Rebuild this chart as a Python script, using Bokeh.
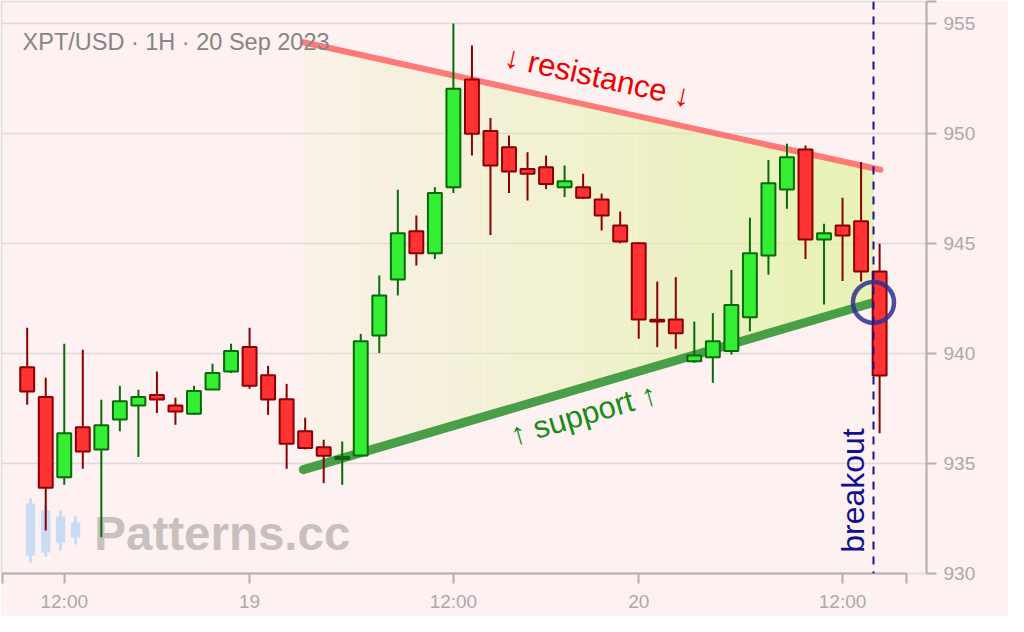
import math
import numpy as np
from bokeh.plotting import figure
from bokeh.models import FixedTicker, Span, Range1d, ColumnDataSource
from bokeh.core.properties import value
from bokeh.embed import file_html
from bokeh.resources import INLINE

# ---------------- data ----------------
opens = [939.38, 938.02, 934.38, 936.65, 935.64, 937.00, 937.64, 938.11, 937.64, 937.26,
         938.36, 939.18, 940.29, 939.01, 937.92, 936.47, 935.74, 935.20, 935.36, 940.82,
         943.36, 945.56, 944.56, 947.56, 952.45, 950.11, 949.38, 948.39, 948.47, 947.56,
         947.56, 947.00, 945.82, 945.01, 941.53, 941.55, 939.65, 939.83, 940.11, 941.65,
         944.45, 947.45, 949.27, 945.18, 945.82, 946.01, 943.73]
highs = [941.17, 938.90, 940.44, 940.17, 937.90, 938.53, 938.35, 939.18, 937.99, 938.53,
         939.53, 940.44, 941.17, 939.44, 938.62, 937.08, 936.08, 936.00, 940.89, 943.55,
         947.44, 946.27, 947.56, 955.00, 954.00, 950.71, 949.91, 949.15, 949.00, 948.55,
         948.17, 947.27, 946.45, 945.06, 943.27, 943.47, 941.45, 941.83, 943.80, 946.17,
         948.80, 949.53, 949.45, 945.90, 947.08, 948.70, 944.99]
lows = [937.67, 931.95, 934.03, 934.76, 931.65, 936.47, 935.29, 937.29, 936.76, 937.21,
        938.36, 939.11, 938.40, 937.21, 934.76, 935.64, 934.11, 934.03, 935.36, 940.02,
        942.64, 944.00, 944.30, 947.29, 949.00, 945.39, 947.30, 946.95, 947.48, 947.11,
        947.03, 945.59, 945.01, 940.67, 940.29, 940.21, 939.58, 938.67, 939.95, 941.01,
        943.58, 946.58, 944.30, 942.23, 943.29, 943.27, 936.38]
closes = [938.27, 933.90, 936.38, 935.55, 936.74, 937.83, 938.02, 937.91, 937.36, 938.29,
          939.11, 940.11, 938.53, 937.91, 935.90, 935.71, 935.35, 935.30, 940.56, 942.64,
          945.47, 944.56, 947.29, 952.03, 949.99, 948.55, 948.27, 948.17, 947.71, 947.83,
          947.08, 946.27, 945.09, 941.55, 941.45, 940.92, 939.91, 940.56, 942.21, 944.56,
          947.74, 948.92, 945.18, 945.47, 945.36, 943.73, 939.00]

tick_pos = [2, 12, 23, 33, 44]
tick_labels = ["12:00", "19", "12:00", "20", "12:00"]
y_ticks = [930, 935, 940, 945, 950, 955]

# trend lines (candle index, price)
res_x = [14.9, 46.05]
res_y = [954.15, 948.35]
sup_x = [14.9, 45.67]
sup_y = [934.72, 942.32]
breakout_x = 45.67
breakout_y = 942.32

# watermark logo candles
logo_x = [0.18, 1.0, 1.8, 2.61]
logo_top = [933.18, 932.86, 932.59, 932.32]
logo_bot = [930.82, 930.95, 931.41, 931.64]
logo_hi = [933.41, 933.09, 932.86, 932.59]
logo_lo = [930.50, 930.77, 931.05, 931.32]

FONT = "Liberation Sans"

# ---------------- figure ----------------
X0, X1 = -1.387, 48.53
Y0, Y1 = 930.0, 956.0
W, H = 1008, 616
BL, BR, BT, BB = 1, 82, 1, 43
fw, fh = W - BL - BR, H - BT - BB
xpx = fw / (X1 - X0)
ypx = fh / (Y1 - Y0)

p = figure(width=W, height=H, output_backend="svg", toolbar_location=None,
           x_range=Range1d(X0, X1), y_range=Range1d(Y0, Y1),
           y_axis_location="right", min_border_left=BL, min_border_right=BR,
           min_border_top=BT, min_border_bottom=BB)
p.background_fill_color = "#fdf1f1"
p.border_fill_color = "#fdf1f1"
p.outline_line_color = "#dcdcdc"
p.outline_line_width = 1.5

p.xgrid.visible = False
p.ygrid.ticker = FixedTicker(ticks=y_ticks)
p.ygrid.grid_line_color = "#dedada"
p.ygrid.grid_line_width = 1.5

# axes
xa = p.xaxis[0]
xa.ticker = FixedTicker(ticks=[-1.333] + tick_pos + [47.45])
ov = {float(t): l for t, l in zip(tick_pos, tick_labels)}
ov[-1.333] = ""
ov[47.45] = ""
xa.major_label_overrides = ov
xa.bounds = (-1.333, 47.45)
ya = p.yaxis[0]
ya.ticker = FixedTicker(ticks=y_ticks + [956])
ya.major_label_overrides = {956: ""}
for ax in (xa, ya):
    ax.axis_line_color = "#b0b0b0"
    ax.axis_line_width = 2
    ax.major_tick_line_color = "#b0b0b0"
    ax.major_tick_line_width = 2
    ax.major_tick_out = 10
    ax.major_tick_in = 0
    ax.minor_tick_line_color = None
    ax.major_label_text_font = FONT
    ax.major_label_text_font_size = "19px"
    ax.major_label_text_color = "#aaaaaa"
    ax.major_label_standoff = 7

# gradient fill of the triangle (styling strips)
def line_at(xs, ys, x):
    s = (ys[1] - ys[0]) / (xs[1] - xs[0])
    return ys[0] + s * (x - xs[0])

n = 90
edges = np.linspace(res_x[0], breakout_x, n + 1)
pxs, pys, alphas = [], [], []
for i in range(n):
    a, b = edges[i], edges[i + 1] + 0.01
    pxs.append([a, b, b, a])
    pys.append([line_at(res_x, res_y, a), line_at(res_x, res_y, b),
                line_at(sup_x, sup_y, b), line_at(sup_x, sup_y, a)])
    t = i / (n - 1)
    alphas.append(0.10 + 0.66 * t)
p.patches(pxs, pys, fill_color="#e0f2a0", fill_alpha=alphas, line_color=None)

# watermark logo + text
p.segment(logo_x, logo_lo, logo_x, logo_hi, line_color="#c9dcf4", line_width=3)
p.vbar(x=logo_x, top=logo_top, bottom=logo_bot, width=0.5, fill_color="#c9dcf4",
       line_color=None)
p.text(x=[3.62], y=[931.82], text=["Patterns.cc"], text_font=value(FONT),
       text_font_style="bold", text_font_size="47.5px", text_color="#c8c0c0",
       text_align="left", text_baseline="middle")

# trend lines
p.line(res_x, res_y, line_color="#ff6b6b", line_alpha=0.9, line_width=6, line_cap="round")
p.line(sup_x, sup_y, line_color="#3f9a3f", line_alpha=0.95, line_width=9, line_cap="round")

# candles
idx = list(range(len(opens)))
up = [c >= o for o, c in zip(opens, closes)]
src = ColumnDataSource(dict(
    x=idx, high=highs, low=lows,
    top=[max(o, c) for o, c in zip(opens, closes)],
    bot=[min(o, c) for o, c in zip(opens, closes)],
    fill=["#33ee33" if u else "#ff3333" for u in up],
    edge=["#0a6a0a" if u else "#8b0000" for u in up],
))
p.segment("x", "low", "x", "high", source=src, line_color="edge", line_width=2)
p.vbar(x="x", top="top", bottom="bot", width=0.75, source=src,
       fill_color="fill", line_color="edge", line_width=2)

# breakout marker
p.add_layout(Span(location=breakout_x, dimension="height", line_color="#141496",
                  line_width=2, line_dash="8 7"))
p.scatter([breakout_x], [breakout_y], marker="circle", size=41, fill_alpha=0,
          line_color="#2f2f90", line_alpha=0.85, line_width=4.5)

# labels
res_angle = math.atan2((res_y[1] - res_y[0]) * ypx, (res_x[1] - res_x[0]) * xpx)
sup_angle = math.atan2((sup_y[1] - sup_y[0]) * ypx, (sup_x[1] - sup_x[0]) * xpx)
p.text(x=[30.78], y=[952.59], text=["\u2193 resistance \u2193"], angle=res_angle,
       text_font=value(FONT), text_font_size="31px", text_color="#ee0000",
       text_align="center", text_baseline="middle")
p.text(x=[30.02], y=[937.23], text=["\u2191 support \u2191"], angle=sup_angle,
       text_font=value(FONT), text_font_size="31px", text_color="#178c17",
       text_align="center", text_baseline="middle")
p.text(x=[44.54], y=[933.77], text=["breakout"], angle=math.pi / 2,
       text_font=value(FONT), text_font_size="32px", text_color="#10108c",
       text_align="center", text_baseline="middle")
p.text(x=[-0.25], y=[954.18], text=["XPT/USD \u00b7 1H \u00b7 20 Sep 2023"],
       text_font=value(FONT), text_font_size="23.5px", text_color="#858585",
       text_align="left", text_baseline="middle")

open("out.html", "w").write(file_html(p, INLINE))
